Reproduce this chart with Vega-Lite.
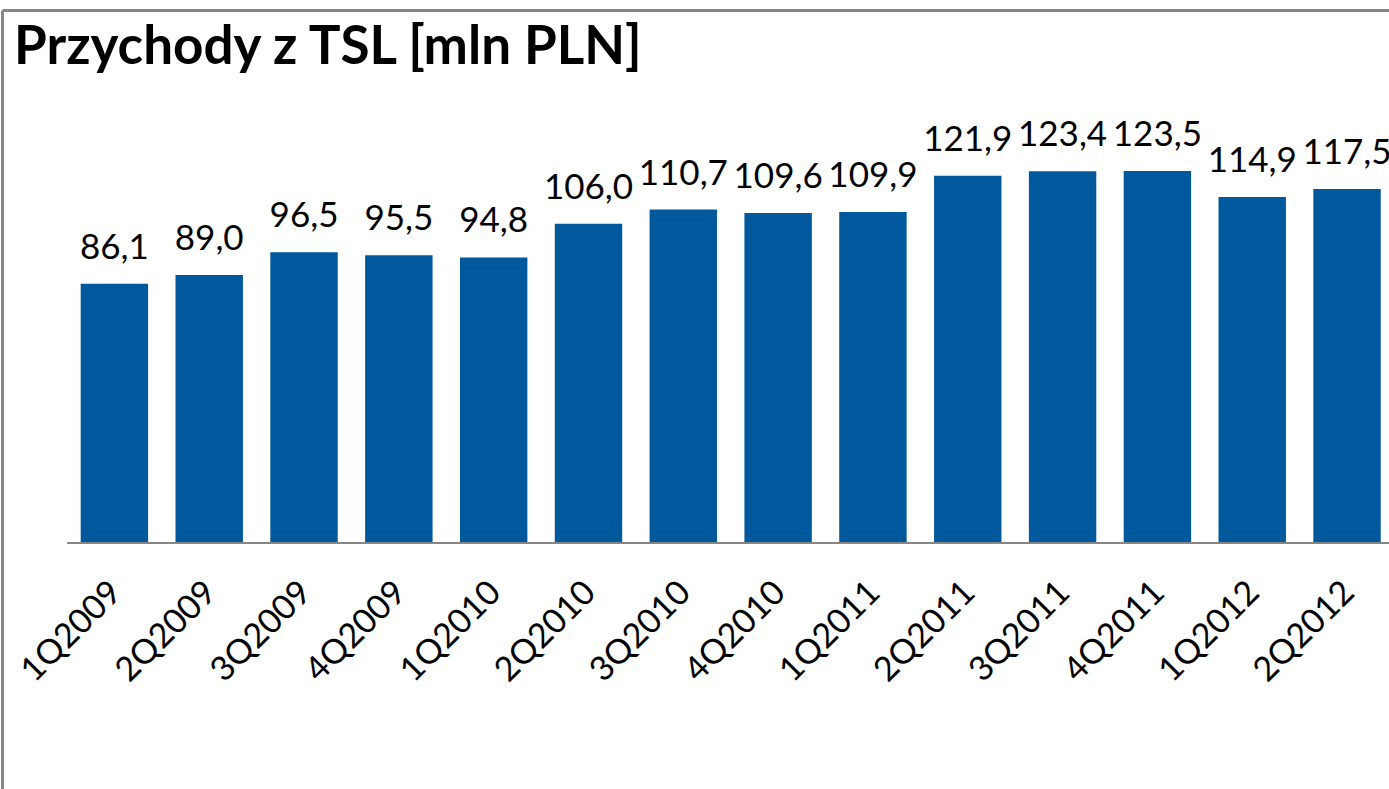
{
  "$schema": "https://vega.github.io/schema/vega-lite/v6.json",
  "width": 1387,
  "height": 779,
  "autosize": {"type": "none"},
  "padding": {"left": 2, "top": 10, "right": 0, "bottom": 0},
  "background": "#ffffff",
  "title": {
    "text": "Przychody z TSL [mln PLN]",
    "anchor": "start",
    "frame": "group",
    "orient": "top",
    "offset": -58,
    "dx": 12,
    "dy": 49,
    "baseline": "alphabetic",
    "font": "Lato",
    "fontSize": 53,
    "fontWeight": "bold",
    "color": "#000000"
  },
  "datasets": {
    "base": [{"from": "1Q2009", "to": "2Q2012", "zero": 0}]
  },
  "data": {
    "values": [
      {"q": "1Q2009", "v": 86.1, "label": "86,1"},
      {"q": "2Q2009", "v": 89.0, "label": "89,0"},
      {"q": "3Q2009", "v": 96.5, "label": "96,5"},
      {"q": "4Q2009", "v": 95.5, "label": "95,5"},
      {"q": "1Q2010", "v": 94.8, "label": "94,8"},
      {"q": "2Q2010", "v": 106.0, "label": "106,0"},
      {"q": "3Q2010", "v": 110.7, "label": "110,7"},
      {"q": "4Q2010", "v": 109.6, "label": "109,6"},
      {"q": "1Q2011", "v": 109.9, "label": "109,9"},
      {"q": "2Q2011", "v": 121.9, "label": "121,9"},
      {"q": "3Q2011", "v": 123.4, "label": "123,4"},
      {"q": "4Q2011", "v": 123.5, "label": "123,5"},
      {"q": "1Q2012", "v": 114.9, "label": "114,9"},
      {"q": "2Q2012", "v": 117.5, "label": "117,5"}
    ]
  },
  "encoding": {
    "x": {
      "field": "q",
      "type": "nominal",
      "sort": null,
      "scale": {"paddingInner": 0.289, "paddingOuter": 0.4585, "align": 0.905},
      "axis": {
        "orient": "bottom",
        "offset": -246,
        "domain": false,
        "ticks": false,
        "title": null,
        "labelAngle": -45,
        "labelAlign": "right",
        "labelBaseline": "middle",
        "labelFont": "Lato",
        "labelFontSize": 34,
        "labelColor": "#000000",
        "labelPadding": 44,
        "labelOffset": 2,
        "labelOverlap": false
      }
    },
    "y": {
      "field": "v",
      "type": "quantitative",
      "scale": {"domain": [-81.67, 176.96], "nice": false, "zero": false},
      "axis": {
        "orient": "left",
        "title": null,
        "labels": false,
        "ticks": false,
        "domain": true,
        "domainColor": "#868686",
        "domainWidth": 3,
        "grid": true,
        "gridColor": "#868686",
        "gridWidth": 3,
        "values": [176.96]
      }
    }
  },
  "layer": [
    {
      "mark": {"type": "bar", "color": "#00599C"},
      "encoding": {"y2": {"datum": 0}}
    },
    {
      "mark": {
        "type": "text",
        "font": "Lato",
        "fontSize": 35,
        "baseline": "alphabetic",
        "align": "center",
        "dy": -25,
        "color": "#000000"
      },
      "encoding": {"text": {"field": "label"}}
    },
    {
      "data": {"name": "base"},
      "mark": {"type": "rule", "color": "#868686", "strokeWidth": 2},
      "encoding": {
        "x": {"field": "from", "type": "nominal", "bandPosition": -0.2},
        "x2": {"field": "to", "bandPosition": 1.2},
        "y": {"field": "zero", "type": "quantitative"}
      }
    }
  ],
  "config": {"view": {"stroke": null}}
}
